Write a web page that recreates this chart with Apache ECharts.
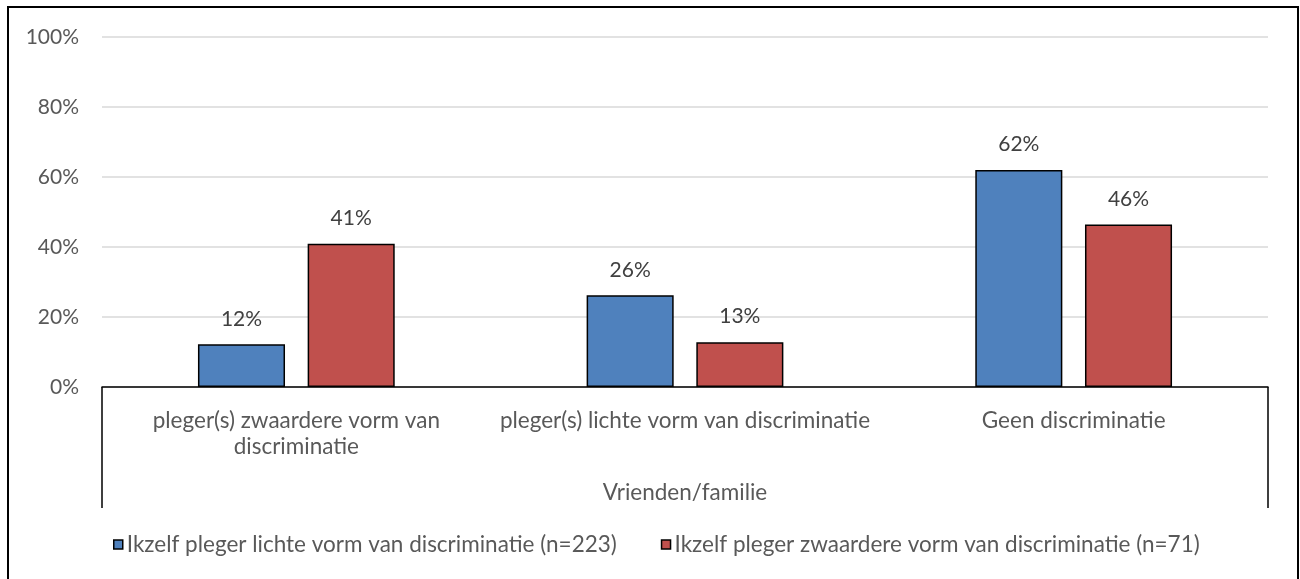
<!DOCTYPE html>
<html>
<head>
<meta charset="utf-8">
<script src="https://cdn.jsdelivr.net/npm/echarts@6/dist/echarts.min.js"></script>
<style>
html,body{margin:0;padding:0;overflow:hidden;background:#fff;}
#wrap{position:relative;width:1300px;height:579px;overflow:hidden;}
#main{position:absolute;left:0;top:0;width:1300px;height:579px;}
#frame{position:absolute;left:7px;top:6px;width:1288px;height:600px;border:2px solid #000;pointer-events:none;}
</style>
</head>
<body>
<div id="wrap"><div id="main"></div><div id="frame"></div></div>
<script>
var categories = ['pleger(s) zwaardere vorm van\ndiscriminatie', 'pleger(s) lichte vorm van discriminatie', 'Geen discriminatie'];
var groupLabels = ['Vrienden/familie'];
var seriesNames = ['Ikzelf pleger lichte vorm van discriminatie (n=223)', 'Ikzelf pleger zwaardere vorm van discriminatie (n=71)'];
var lichteValues = [12.2, 26.2, 62.0];
var zwaardereValues = [40.9, 12.8, 46.4];
var colors = ['#4f81bd', '#c0504d'];

var font = 'Lato';
var textColor = '#595959';

var myChart = echarts.init(document.getElementById('main'));

function barSeries(name, values, color) {
	return {
		name: name,
		type: 'bar',
		data: values,
		barWidth: '22.4%',
		barGap: '26%',
		itemStyle: {color: color, borderColor: '#000', borderWidth: 1.5},
		label: {
			show: true,
			position: 'top',
			distance: 15,
			fontFamily: font,
			fontSize: 21,
			color: '#404040',
			formatter: function (p) { return Math.round(p.value) + '%'; }
		}
	};
}

var option = {
	animation: false,
	grid: {left: 102, right: 32, top: 37, bottom: 192},
	legend: {
		bottom: 18,
		left: 108,
		itemWidth: 9,
		itemHeight: 9,
		itemGap: 44,
		icon: 'rect',
		itemStyle: {borderColor: '#000', borderWidth: 1.5},
		textStyle: {fontFamily: font, fontSize: 22.5, color: textColor, padding: [0, 0, 0, -1]},
		data: seriesNames
	},
	xAxis: [
		{
			type: 'category',
			data: categories,
			axisLine: {lineStyle: {color: '#000', width: 1.5}},
			axisTick: {show: false},
			axisLabel: {margin: 21, fontFamily: font, fontSize: 22.5, color: textColor, lineHeight: 26, interval: 0}
		},
		{
			type: 'category',
			position: 'bottom',
			data: groupLabels,
			axisLine: {show: false},
			axisTick: {show: true, length: 121, lineStyle: {color: '#000', width: 1.5}},
			axisLabel: {margin: 93, fontFamily: font, fontSize: 22.5, color: textColor, lineHeight: 26}
		}
	],
	yAxis: {
		type: 'value',
		min: 0,
		max: 100,
		interval: 20,
		axisLine: {show: false},
		axisTick: {show: false},
		axisLabel: {margin: 23, fontFamily: font, fontSize: 21, color: textColor, formatter: '{value}%'},
		splitLine: {lineStyle: {color: '#d9d9d9', width: 1.5}}
	},
	series: [
		barSeries(seriesNames[0], lichteValues, colors[0]),
		barSeries(seriesNames[1], zwaardereValues, colors[1])
	]
};

myChart.setOption(option);
</script>
</body>
</html>
